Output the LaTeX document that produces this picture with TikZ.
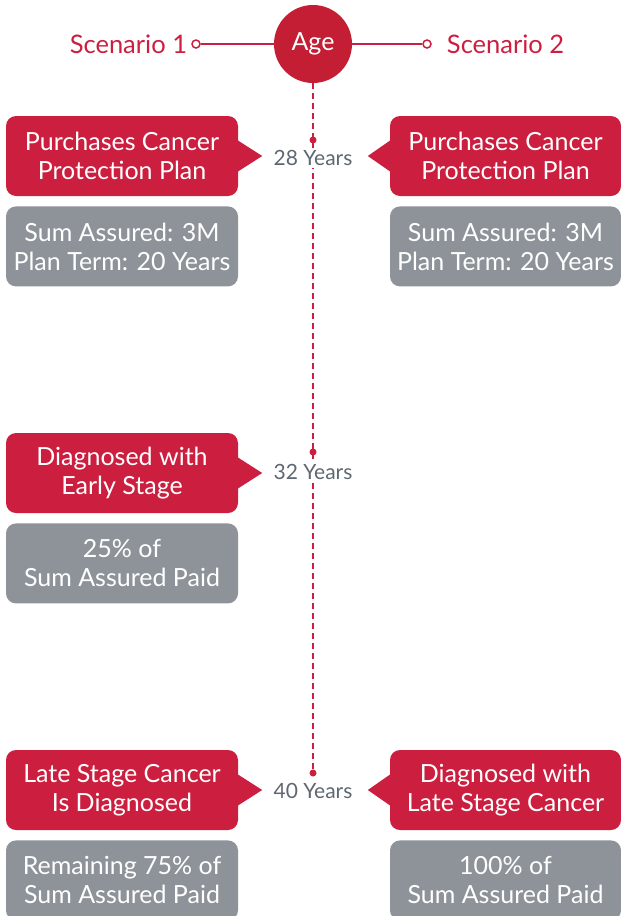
\documentclass[tikz,border=0pt]{standalone}
\usepackage{fontspec}
\setmainfont{Lato}
\usetikzlibrary{positioning, calc}
\definecolor{agered}{RGB}{196,30,52}
\definecolor{boxred}{RGB}{204,31,64}
\definecolor{boxgray}{RGB}{142,147,153}
\definecolor{yeargray}{RGB}{95,103,112}

\begin{document}
\begin{tikzpicture}[
    x=1pt, y=-1pt,
    node distance=10pt,
    event/.style={rectangle, rounded corners=10pt, fill=boxred, text=white, minimum width=232pt, minimum height=80pt, align=center, inner sep=0pt, font=\fontsize{25}{29}\selectfont},
    detail/.style={event, fill=boxgray},
    year/.style={fill=white, text=yeargray, inner sep=2pt, font=\fontsize{21}{24}\selectfont},
    tick/.style={circle, fill=boxred, inner sep=0pt, minimum size=7pt},
    endring/.style={circle, draw=boxred, fill=white, line width=1.5pt, inner sep=0pt, minimum size=8pt},
    scenario/.style={text=boxred, inner sep=0pt, font=\fontsize{25.5}{28}\selectfont},
    timeline/.style={draw=boxred, line width=1.5pt, dash pattern=on 6pt off 4pt}
]
\useasboundingbox (0,0) rectangle (621,916);

% Header
\node[circle, fill=agered, text=white, minimum size=78pt, inner sep=0pt, font=\fontsize{25}{28}\selectfont] (age) at (313,44) {Age};
\node[endring] (ring1) at (196,44) {};
\node[endring] (ring2) at (427,44) {};
\node[scenario, left=4pt of ring1] (sc1) {Scenario 1};
\node[scenario, right=15pt of ring2] (sc2) {Scenario 2};
\draw[boxred, line width=2pt] (ring1) -- (age);
\draw[boxred, line width=2pt] (age) -- (ring2);

% Ticks on the time line
\node[tick] (t28) at (313,140) {};
\node[tick] (t32) at (313,452) {};
\node[tick] (t40) at (313,773) {};
\draw[timeline] (age) -- (t40);

\node[year] (y28) at (313,158) {28 Years};
\node[year] (y32) at (313,472) {32 Years};
\node[year] (y40) at (313,791) {40 Years};

% Scenario 1
\node[event] (buy1) at (122,156) {Purchases Cancer\\Protection Plan};
\node[detail, below=of buy1] (sum1) {Sum Assured: 3M\\Plan Term: 20 Years};
\node[event] (early1) at (122,473) {Diagnosed with\\Early Stage};
\node[detail, below=of early1] (pay25) {25\% of\\Sum Assured Paid};
\node[event] (late1) at (122,790) {Late Stage Cancer\\Is Diagnosed};
\node[detail, below=of late1] (pay75) {Remaining 75\% of\\Sum Assured Paid};

% Scenario 2
\node[event, minimum width=231pt] (buy2) at (505.5,156) {Purchases Cancer\\Protection Plan};
\node[detail, minimum width=231pt, below=of buy2] (sum2) {Sum Assured: 3M\\Plan Term: 20 Years};
\node[event, minimum width=231pt] (late2) at (505.5,790) {Diagnosed with\\Late Stage Cancer};
\node[detail, minimum width=231pt, below=of late2] (pay100) {100\% of\\Sum Assured Paid};

% Pointers
\foreach \b in {buy1, early1, late1}
  \fill[boxred] ($(\b.east)+(-1,-16)$) -- ($(\b.east)+(24,0)$) -- ($(\b.east)+(-1,16)$) -- cycle;
\foreach \b in {buy2, late2}
  \fill[boxred] ($(\b.west)+(1,-16)$) -- ($(\b.west)+(-22,0)$) -- ($(\b.west)+(1,16)$) -- cycle;

\end{tikzpicture}
\end{document}
